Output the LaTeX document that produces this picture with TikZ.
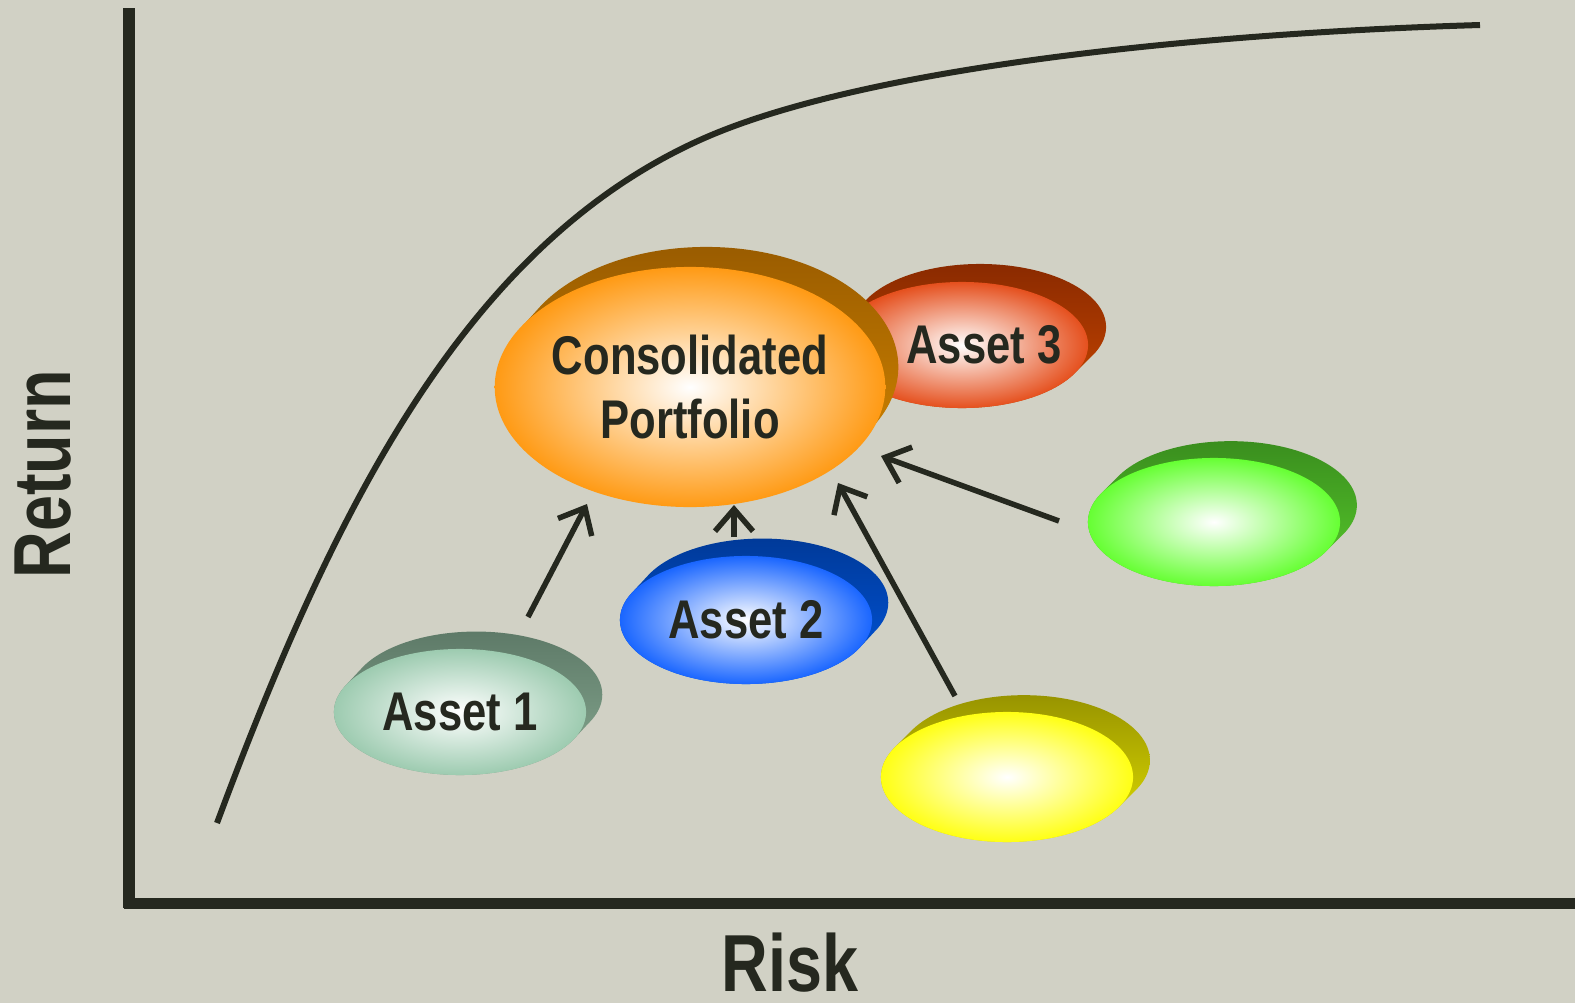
\documentclass[tikz,border=0pt]{standalone}
\usepackage{fontspec}
\newfontfamily\narrowsans[FakeStretch=0.8]{Liberation Sans}
\usetikzlibrary{shapes.geometric,arrows.meta}
\definecolor{board}{RGB}{209,209,197}
\definecolor{ink}{RGB}{37,40,31}
\definecolor{portface}{RGB}{255,154,20}
\definecolor{portbacktop}{RGB}{154,92,0}
\definecolor{portbacklow}{RGB}{216,138,0}
\definecolor{aoneface}{RGB}{157,203,176}
\definecolor{aonebacktop}{RGB}{94,122,104}
\definecolor{aonebacklow}{RGB}{134,168,144}
\definecolor{atwoface}{RGB}{26,102,255}
\definecolor{atwobacktop}{RGB}{0,58,153}
\definecolor{atwobacklow}{RGB}{0,85,221}
\definecolor{athreeface}{RGB}{229,80,30}
\definecolor{athreebacktop}{RGB}{138,42,0}
\definecolor{athreebacklow}{RGB}{200,70,0}
\definecolor{greenface}{RGB}{102,255,51}
\definecolor{greenbacktop}{RGB}{58,142,30}
\definecolor{greenbacklow}{RGB}{88,204,44}
\definecolor{yellowface}{RGB}{255,255,20}
\definecolor{yellowbacktop}{RGB}{152,148,0}
\definecolor{yellowbacklow}{RGB}{226,224,0}
\tikzset{
  tag/.style={text=ink, inner sep=0pt, align=center,
    font=\narrowsans\bfseries\fontsize{15.5}{18}\selectfont},
  disc/.style={ellipse, inner sep=0pt, shade, inner color=white, tag},
  axisname/.style={text=ink, inner sep=0pt,
    font=\narrowsans\bfseries\fontsize{23}{26}\selectfont},
  feed/.style={draw=ink, line width=0.055cm,
    -{Straight Barb[length=0.22cm,width=0.38cm]}},
}

\begin{document}
\begin{tikzpicture}[x=0.01cm,y=-0.01cm]
    \fill[board] (0,0) rectangle (1575,1003);
    \useasboundingbox (0,0) rectangle (1575,1003);
    % axes
    \draw[ink, line width=0.11cm] (129,8) -- (129,908);
    \draw[ink, line width=0.11cm] (124,903) -- (1575,903);
    \node[axisname, rotate=90] (ret) at (43,474) {Return};
    \node[axisname, anchor=base] (risk) at (790,991) {Risk};
    % frontier
    \draw[ink, line width=0.06cm] (217,823) .. controls (332,514) and (463,247) .. (700,140)
        .. controls (855,70) and (1180,34) .. (1480,25);
    % asset 3 sits behind the portfolio
    \shade[top color=athreebacktop, bottom color=athreebacklow] foreach \k in {0,...,6} {({962+\k*3},{345-\k*3}) ellipse (1.26cm and 0.63cm)};
    \node[disc, outer color=athreeface, minimum width=2.52cm, minimum height=1.26cm,
    label={[tag, xshift=0.22cm]center:Asset 3}] (asset3) at (962,345) {};
    \shade[top color=portbacktop, bottom color=portbacklow] foreach \k in {0,...,6} {({690+\k*2.7},{385-\k*3}) ellipse (1.92cm and 1.2cm)};
    \node[disc, outer color=portface, minimum width=3.84cm, minimum height=2.4cm] (port) at (690,387) {Consolidated\\Portfolio};
    \shade[top color=aonebacktop, bottom color=aonebacklow] foreach \k in {0,...,6} {({460+\k*2.7},{712-\k*2.9}) ellipse (1.26cm and 0.63cm)};
    \node[disc, outer color=aoneface, minimum width=2.52cm, minimum height=1.26cm] (asset1) at (460,712) {Asset 1};
    \shade[top color=atwobacktop, bottom color=atwobacklow] foreach \k in {0,...,6} {({746+\k*2.7},{620-\k*2.9}) ellipse (1.26cm and 0.64cm)};
    \node[disc, outer color=atwoface, minimum width=2.52cm, minimum height=1.28cm] (asset2) at (746,620) {Asset 2};
    \shade[top color=greenbacktop, bottom color=greenbacklow] foreach \k in {0,...,6} {({1214+\k*2.8},{522-\k*2.8}) ellipse (1.26cm and 0.64cm)};
    \node[disc, outer color=greenface, minimum width=2.52cm, minimum height=1.28cm] (green) at (1214,522) {};
    \shade[top color=yellowbacktop, bottom color=yellowbacklow] foreach \k in {0,...,6} {({1007+\k*2.8},{777-\k*2.8}) ellipse (1.26cm and 0.65cm)};
    \node[disc, outer color=yellowface, minimum width=2.52cm, minimum height=1.3cm] (yellow) at (1007,777) {};
    % arrows into the portfolio
    \draw[feed] ([shift={(68,-95)}]asset1.center) -- ([shift={(-103,117)}]port.center);
    \draw[feed] ([shift={(-12,-83)}]asset2.center) -- ([shift={(44,118)}]port.center);
    \draw[feed] ([shift={(-52,-81)}]yellow.center) -- ([shift={(148,96)}]port.center);
    \draw[feed] ([shift={(-155,-1)}]green.center) -- ([shift={(191,69)}]port.center);
\end{tikzpicture}
\end{document}
